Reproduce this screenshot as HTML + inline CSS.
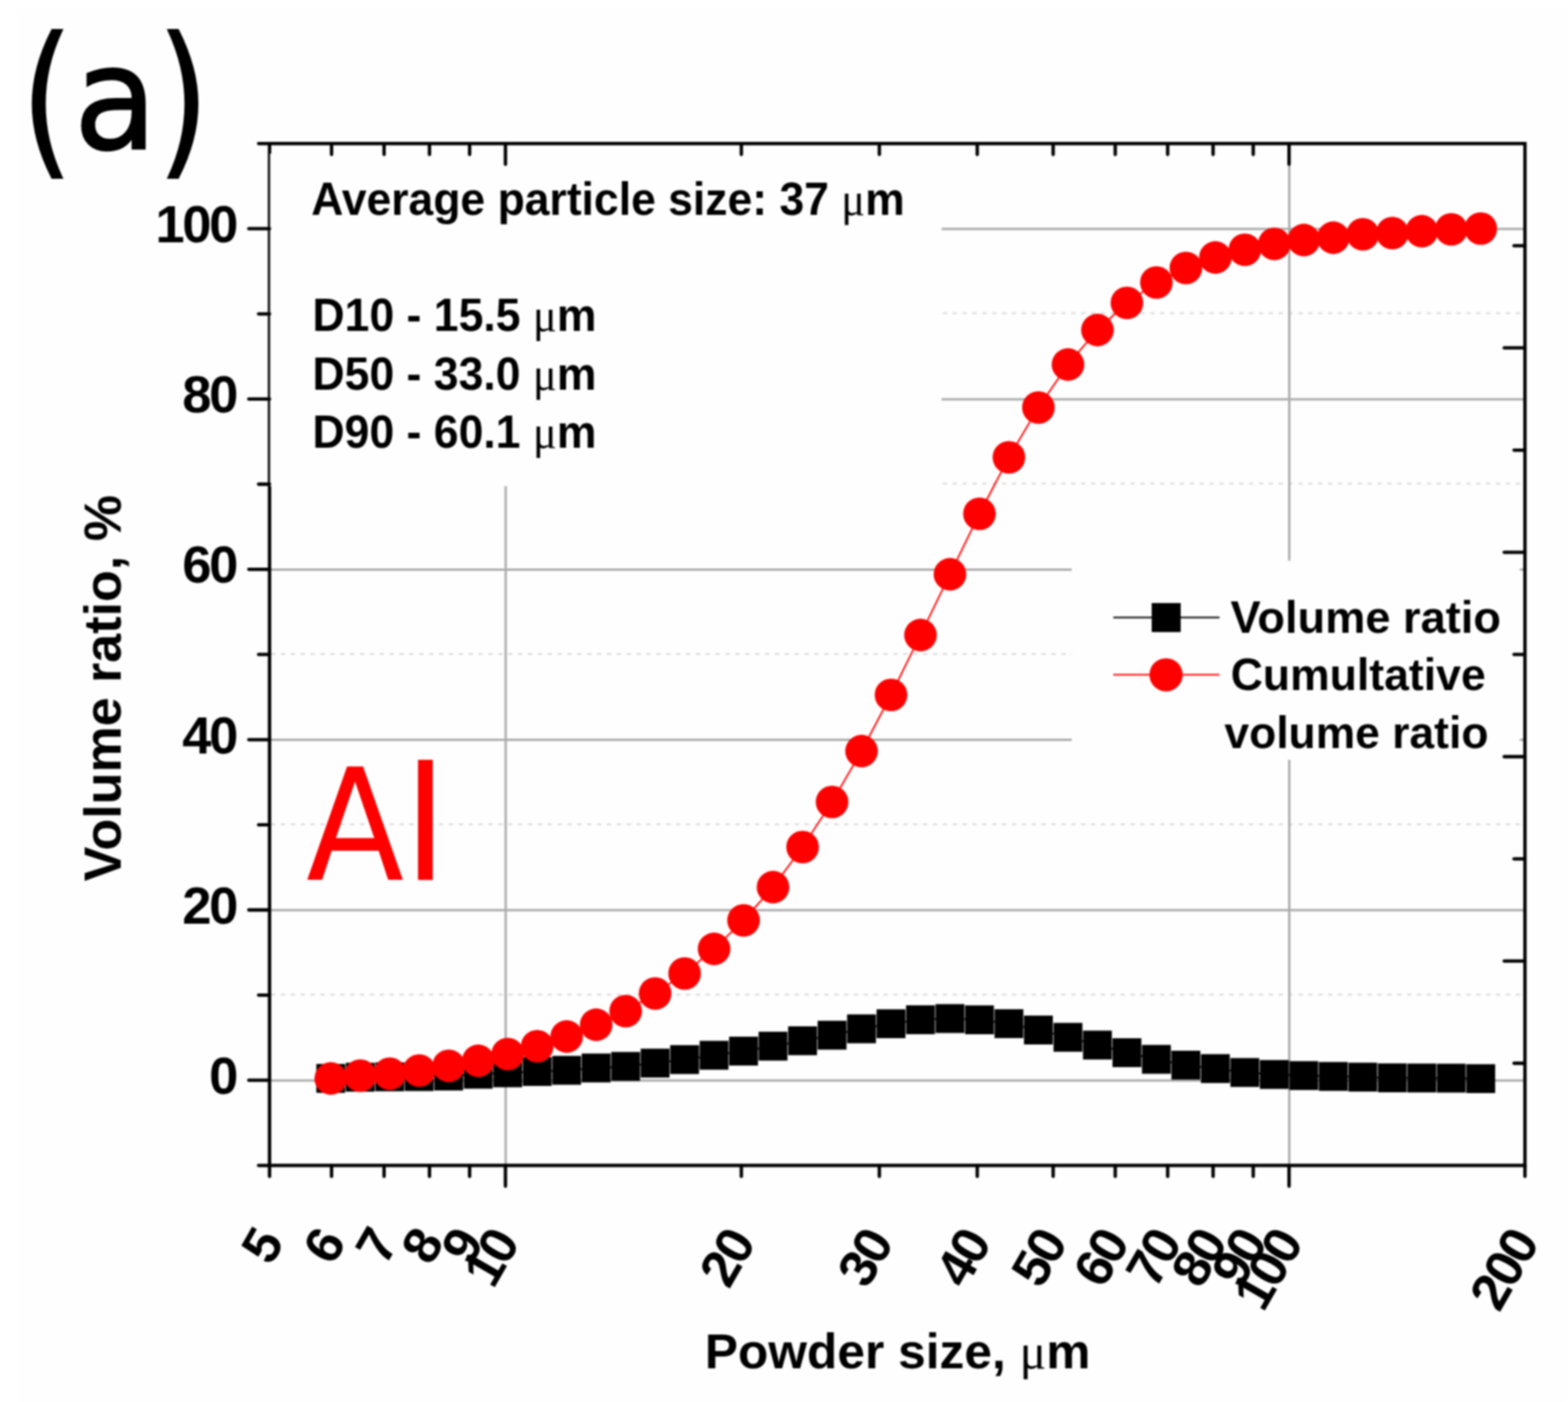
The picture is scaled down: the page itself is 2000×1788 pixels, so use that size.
<!DOCTYPE html><html><head><meta charset="utf-8"><title>Powder size distribution</title>
<style>html,body{margin:0;padding:0;background:#fff;}svg{display:block;filter:blur(0.9px)}.b{font-family:'Liberation Sans',Arial,sans-serif;font-weight:bold}.r{font-family:'Liberation Sans',Arial,sans-serif;font-weight:normal}.dj{font-family:'DejaVu Sans','Liberation Sans',sans-serif;font-weight:normal}.mu{font-family:'Liberation Serif','Times New Roman',serif;font-weight:normal}</style>
</head><body>
<svg width="2000" height="1788" viewBox="0 0 2000 1788">
<rect x="0" y="0" width="2000" height="1788" fill="#ffffff"/>
<rect x="22" y="12" width="1978" height="1776" fill="#fefefe"/>
<g><line x1="343.8" y1="1378.0" x2="1945.1" y2="1378.0" stroke="#acacac" stroke-width="3"/><line x1="343.8" y1="1160.8" x2="1945.1" y2="1160.8" stroke="#acacac" stroke-width="3"/><line x1="343.8" y1="943.6" x2="1945.1" y2="943.6" stroke="#acacac" stroke-width="3"/><line x1="343.8" y1="726.4" x2="1945.1" y2="726.4" stroke="#acacac" stroke-width="3"/><line x1="343.8" y1="509.2" x2="1945.1" y2="509.2" stroke="#acacac" stroke-width="3"/><line x1="343.8" y1="292.0" x2="1945.1" y2="292.0" stroke="#acacac" stroke-width="3"/><line x1="345.7" y1="1268.4" x2="1945.1" y2="1268.4" stroke="#d6d6d6" stroke-width="2" stroke-dasharray="5.5 7.1"/><line x1="345.7" y1="1051.2" x2="1945.1" y2="1051.2" stroke="#d6d6d6" stroke-width="2" stroke-dasharray="5.5 7.1"/><line x1="345.7" y1="834.0" x2="1945.1" y2="834.0" stroke="#d6d6d6" stroke-width="2" stroke-dasharray="5.5 7.1"/><line x1="345.7" y1="616.8" x2="1945.1" y2="616.8" stroke="#d6d6d6" stroke-width="2" stroke-dasharray="5.5 7.1"/><line x1="345.7" y1="399.6" x2="1945.1" y2="399.6" stroke="#d6d6d6" stroke-width="2" stroke-dasharray="5.5 7.1"/><line x1="645.0" y1="183.1" x2="645.0" y2="1486.3" stroke="#acacac" stroke-width="3"/><line x1="1644.5" y1="183.1" x2="1644.5" y2="1486.3" stroke="#acacac" stroke-width="3"/></g>
<rect x="1367" y="715" width="571.5" height="254" fill="#fefefe"/>
<polyline points="421.9,1375.3 459.5,1373.8 497.1,1373.3 534.7,1373.0 572.3,1372.3 610.0,1370.0 647.6,1368.2 685.2,1366.5 722.8,1365.0 760.4,1362.0 798.0,1360.0 835.6,1355.8 873.2,1351.3 910.8,1345.8 948.4,1340.5 986.0,1334.2 1023.7,1327.3 1061.3,1320.2 1098.9,1312.1 1136.5,1305.6 1174.1,1300.5 1211.7,1299.0 1249.3,1300.6 1286.9,1305.5 1324.5,1313.6 1362.2,1322.9 1399.8,1332.8 1437.4,1342.5 1475.0,1351.0 1512.6,1358.4 1550.2,1362.8 1587.8,1367.8 1625.4,1370.3 1663.0,1371.7 1700.6,1372.8 1738.2,1373.8 1775.9,1374.6 1813.5,1374.8 1851.1,1375.0 1888.7,1375.6" fill="none" stroke="#000" stroke-width="2"/>
<g fill="#000"><rect x="403.5" y="1356.9" width="36.8" height="36.8"/><rect x="441.1" y="1355.4" width="36.8" height="36.8"/><rect x="478.7" y="1354.9" width="36.8" height="36.8"/><rect x="516.3" y="1354.6" width="36.8" height="36.8"/><rect x="553.9" y="1353.9" width="36.8" height="36.8"/><rect x="591.6" y="1351.6" width="36.8" height="36.8"/><rect x="629.2" y="1349.8" width="36.8" height="36.8"/><rect x="666.8" y="1348.1" width="36.8" height="36.8"/><rect x="704.4" y="1346.6" width="36.8" height="36.8"/><rect x="742.0" y="1343.6" width="36.8" height="36.8"/><rect x="779.6" y="1341.6" width="36.8" height="36.8"/><rect x="817.2" y="1337.4" width="36.8" height="36.8"/><rect x="854.8" y="1332.9" width="36.8" height="36.8"/><rect x="892.4" y="1327.4" width="36.8" height="36.8"/><rect x="930.0" y="1322.1" width="36.8" height="36.8"/><rect x="967.6" y="1315.8" width="36.8" height="36.8"/><rect x="1005.3" y="1308.9" width="36.8" height="36.8"/><rect x="1042.9" y="1301.8" width="36.8" height="36.8"/><rect x="1080.5" y="1293.7" width="36.8" height="36.8"/><rect x="1118.1" y="1287.2" width="36.8" height="36.8"/><rect x="1155.7" y="1282.1" width="36.8" height="36.8"/><rect x="1193.3" y="1280.6" width="36.8" height="36.8"/><rect x="1230.9" y="1282.2" width="36.8" height="36.8"/><rect x="1268.5" y="1287.1" width="36.8" height="36.8"/><rect x="1306.1" y="1295.2" width="36.8" height="36.8"/><rect x="1343.8" y="1304.5" width="36.8" height="36.8"/><rect x="1381.4" y="1314.4" width="36.8" height="36.8"/><rect x="1419.0" y="1324.1" width="36.8" height="36.8"/><rect x="1456.6" y="1332.6" width="36.8" height="36.8"/><rect x="1494.2" y="1340.0" width="36.8" height="36.8"/><rect x="1531.8" y="1344.4" width="36.8" height="36.8"/><rect x="1569.4" y="1349.4" width="36.8" height="36.8"/><rect x="1607.0" y="1351.9" width="36.8" height="36.8"/><rect x="1644.6" y="1353.3" width="36.8" height="36.8"/><rect x="1682.2" y="1354.4" width="36.8" height="36.8"/><rect x="1719.8" y="1355.3" width="36.8" height="36.8"/><rect x="1757.5" y="1356.2" width="36.8" height="36.8"/><rect x="1795.1" y="1356.4" width="36.8" height="36.8"/><rect x="1832.7" y="1356.6" width="36.8" height="36.8"/><rect x="1870.3" y="1357.2" width="36.8" height="36.8"/></g>
<polyline points="421.9,1375.4 459.5,1371.8 497.1,1369.2 534.7,1365.3 572.3,1359.3 610.0,1352.9 647.6,1344.3 685.2,1334.2 722.8,1321.9 760.4,1306.9 798.0,1289.5 835.6,1267.0 873.2,1241.5 910.8,1210.1 948.4,1173.7 986.0,1131.4 1023.7,1080.2 1061.3,1022.7 1098.9,957.9 1136.5,886.2 1174.1,809.9 1211.7,732.4 1249.3,655.3 1286.9,583.2 1324.5,519.8 1362.2,464.9 1399.8,420.9 1437.4,386.3 1475.0,360.3 1512.6,341.7 1550.2,328.4 1587.8,318.5 1625.4,311.0 1663.0,306.1 1700.6,303.1 1738.2,298.8 1775.9,297.2 1813.5,294.9 1851.1,292.5 1888.7,291.5" fill="none" stroke="#ff0000" stroke-width="2"/>
<g fill="#ff0000"><circle cx="421.9" cy="1375.4" r="20.8"/><circle cx="459.5" cy="1371.8" r="20.8"/><circle cx="497.1" cy="1369.2" r="20.8"/><circle cx="534.7" cy="1365.3" r="20.8"/><circle cx="572.3" cy="1359.3" r="20.8"/><circle cx="610.0" cy="1352.9" r="20.8"/><circle cx="647.6" cy="1344.3" r="20.8"/><circle cx="685.2" cy="1334.2" r="20.8"/><circle cx="722.8" cy="1321.9" r="20.8"/><circle cx="760.4" cy="1306.9" r="20.8"/><circle cx="798.0" cy="1289.5" r="20.8"/><circle cx="835.6" cy="1267.0" r="20.8"/><circle cx="873.2" cy="1241.5" r="20.8"/><circle cx="910.8" cy="1210.1" r="20.8"/><circle cx="948.4" cy="1173.7" r="20.8"/><circle cx="986.0" cy="1131.4" r="20.8"/><circle cx="1023.7" cy="1080.2" r="20.8"/><circle cx="1061.3" cy="1022.7" r="20.8"/><circle cx="1098.9" cy="957.9" r="20.8"/><circle cx="1136.5" cy="886.2" r="20.8"/><circle cx="1174.1" cy="809.9" r="20.8"/><circle cx="1211.7" cy="732.4" r="20.8"/><circle cx="1249.3" cy="655.3" r="20.8"/><circle cx="1286.9" cy="583.2" r="20.8"/><circle cx="1324.5" cy="519.8" r="20.8"/><circle cx="1362.2" cy="464.9" r="20.8"/><circle cx="1399.8" cy="420.9" r="20.8"/><circle cx="1437.4" cy="386.3" r="20.8"/><circle cx="1475.0" cy="360.3" r="20.8"/><circle cx="1512.6" cy="341.7" r="20.8"/><circle cx="1550.2" cy="328.4" r="20.8"/><circle cx="1587.8" cy="318.5" r="20.8"/><circle cx="1625.4" cy="311.0" r="20.8"/><circle cx="1663.0" cy="306.1" r="20.8"/><circle cx="1700.6" cy="303.1" r="20.8"/><circle cx="1738.2" cy="298.8" r="20.8"/><circle cx="1775.9" cy="297.2" r="20.8"/><circle cx="1813.5" cy="294.9" r="20.8"/><circle cx="1851.1" cy="292.5" r="20.8"/><circle cx="1888.7" cy="291.5" r="20.8"/></g>
<rect x="343.8" y="183.1" width="1601.3" height="1303.2" fill="none" stroke="#000" stroke-width="4.3"/>
<rect x="344.5" y="196" width="856.5" height="424" fill="#fefefe"/>
<g stroke="#000" stroke-width="4.3" stroke-linecap="round"><line x1="329.8" y1="1486.3" x2="343.8" y2="1486.3"/><line x1="317.3" y1="1377.7" x2="343.8" y2="1377.7"/><line x1="329.8" y1="1269.1" x2="343.8" y2="1269.1"/><line x1="317.3" y1="1160.5" x2="343.8" y2="1160.5"/><line x1="329.8" y1="1051.9" x2="343.8" y2="1051.9"/><line x1="317.3" y1="943.3" x2="343.8" y2="943.3"/><line x1="329.8" y1="834.7" x2="343.8" y2="834.7"/><line x1="317.3" y1="726.1" x2="343.8" y2="726.1"/><line x1="329.8" y1="617.5" x2="343.8" y2="617.5"/><line x1="317.3" y1="508.9" x2="343.8" y2="508.9"/><line x1="329.8" y1="400.3" x2="343.8" y2="400.3"/><line x1="317.3" y1="291.7" x2="343.8" y2="291.7"/><line x1="329.8" y1="183.1" x2="343.8" y2="183.1"/><line x1="1931.1" y1="313.4" x2="1945.1" y2="313.4"/><line x1="1918.6" y1="443.7" x2="1945.1" y2="443.7"/><line x1="1931.1" y1="574.1" x2="1945.1" y2="574.1"/><line x1="1918.6" y1="704.4" x2="1945.1" y2="704.4"/><line x1="1931.1" y1="834.7" x2="1945.1" y2="834.7"/><line x1="1918.6" y1="965.0" x2="1945.1" y2="965.0"/><line x1="1931.1" y1="1095.3" x2="1945.1" y2="1095.3"/><line x1="1918.6" y1="1225.7" x2="1945.1" y2="1225.7"/><line x1="1931.1" y1="1356.0" x2="1945.1" y2="1356.0"/><line x1="343.8" y1="1486.3" x2="343.8" y2="1500.3"/><line x1="422.9" y1="1486.3" x2="422.9" y2="1500.3"/><line x1="422.9" y1="183.1" x2="422.9" y2="197.1"/><line x1="489.9" y1="1486.3" x2="489.9" y2="1500.3"/><line x1="489.9" y1="183.1" x2="489.9" y2="197.1"/><line x1="547.8" y1="1486.3" x2="547.8" y2="1500.3"/><line x1="547.8" y1="183.1" x2="547.8" y2="197.1"/><line x1="599.0" y1="1486.3" x2="599.0" y2="1500.3"/><line x1="599.0" y1="183.1" x2="599.0" y2="197.1"/><line x1="644.7" y1="1486.3" x2="644.7" y2="1512.8"/><line x1="644.7" y1="183.1" x2="644.7" y2="209.6"/><line x1="945.6" y1="1486.3" x2="945.6" y2="1500.3"/><line x1="945.6" y1="183.1" x2="945.6" y2="197.1"/><line x1="1121.6" y1="1486.3" x2="1121.6" y2="1500.3"/><line x1="1121.6" y1="183.1" x2="1121.6" y2="197.1"/><line x1="1246.5" y1="1486.3" x2="1246.5" y2="1500.3"/><line x1="1246.5" y1="183.1" x2="1246.5" y2="197.1"/><line x1="1343.3" y1="1486.3" x2="1343.3" y2="1500.3"/><line x1="1343.3" y1="183.1" x2="1343.3" y2="197.1"/><line x1="1422.5" y1="1486.3" x2="1422.5" y2="1500.3"/><line x1="1422.5" y1="183.1" x2="1422.5" y2="197.1"/><line x1="1489.4" y1="1486.3" x2="1489.4" y2="1500.3"/><line x1="1489.4" y1="183.1" x2="1489.4" y2="197.1"/><line x1="1547.3" y1="1486.3" x2="1547.3" y2="1500.3"/><line x1="1547.3" y1="183.1" x2="1547.3" y2="197.1"/><line x1="1598.5" y1="1486.3" x2="1598.5" y2="1500.3"/><line x1="1598.5" y1="183.1" x2="1598.5" y2="197.1"/><line x1="1644.2" y1="1486.3" x2="1644.2" y2="1512.8"/><line x1="1644.2" y1="183.1" x2="1644.2" y2="209.6"/><line x1="1945.1" y1="1486.3" x2="1945.1" y2="1500.3"/></g>
<g fill="#000"><text class="b" x="301.0" y="1394.9" font-size="67" letter-spacing="-3" text-anchor="end">0</text><text class="b" x="301.0" y="1177.7" font-size="67" letter-spacing="-3" text-anchor="end">20</text><text class="b" x="301.0" y="960.5" font-size="67" letter-spacing="-3" text-anchor="end">40</text><text class="b" x="301.0" y="743.3" font-size="67" letter-spacing="-3" text-anchor="end">60</text><text class="b" x="301.0" y="526.1" font-size="67" letter-spacing="-3" text-anchor="end">80</text><text class="b" x="301.0" y="308.9" font-size="67" letter-spacing="-3" text-anchor="end">100</text><text class="b" font-size="67" letter-spacing="-3" text-anchor="end" transform="translate(362.3 1586.0) rotate(-60)">5</text><text class="b" font-size="67" letter-spacing="-3" text-anchor="end" transform="translate(441.4 1586.0) rotate(-60)">6</text><text class="b" font-size="67" letter-spacing="-3" text-anchor="end" transform="translate(508.4 1586.0) rotate(-60)">7</text><text class="b" font-size="67" letter-spacing="-3" text-anchor="end" transform="translate(566.3 1586.0) rotate(-60)">8</text><text class="b" font-size="67" letter-spacing="-3" text-anchor="end" transform="translate(617.5 1586.0) rotate(-60)">9</text><text class="b" font-size="67" letter-spacing="-3" text-anchor="end" transform="translate(663.2 1586.0) rotate(-60)">10</text><text class="b" font-size="67" letter-spacing="-3" text-anchor="end" transform="translate(964.1 1586.0) rotate(-60)">20</text><text class="b" font-size="67" letter-spacing="-3" text-anchor="end" transform="translate(1140.1 1586.0) rotate(-60)">30</text><text class="b" font-size="67" letter-spacing="-3" text-anchor="end" transform="translate(1265.0 1586.0) rotate(-60)">40</text><text class="b" font-size="67" letter-spacing="-3" text-anchor="end" transform="translate(1361.8 1586.0) rotate(-60)">50</text><text class="b" font-size="67" letter-spacing="-3" text-anchor="end" transform="translate(1441.0 1586.0) rotate(-60)">60</text><text class="b" font-size="67" letter-spacing="-3" text-anchor="end" transform="translate(1507.9 1586.0) rotate(-60)">70</text><text class="b" font-size="67" letter-spacing="-3" text-anchor="end" transform="translate(1565.8 1586.0) rotate(-60)">80</text><text class="b" font-size="67" letter-spacing="-3" text-anchor="end" transform="translate(1617.0 1586.0) rotate(-60)">90</text><text class="b" font-size="67" letter-spacing="-3" text-anchor="end" transform="translate(1662.7 1586.0) rotate(-60)">100</text><text class="b" font-size="67" letter-spacing="-3" text-anchor="end" transform="translate(1963.6 1586.0) rotate(-60)">200</text><text class="b" font-size="63" x="898.98" y="1745.20" textLength="491.90" lengthAdjust="spacingAndGlyphs" >Powder size, <tspan class="mu">&#956;</tspan>m</text><text class="b" font-size="67" textLength="492.61" lengthAdjust="spacingAndGlyphs" transform="translate(154 1123.99) rotate(-90)">Volume ratio, %</text><text class="b" font-size="58.5" x="397.06" y="273.50" textLength="756.90" lengthAdjust="spacingAndGlyphs" >Average particle size: 37 <tspan class="mu">&#956;</tspan>m</text><text class="b" font-size="58.5" x="398.51" y="422.40" textLength="362.21" lengthAdjust="spacingAndGlyphs" >D10 - 15.5 <tspan class="mu">&#956;</tspan>m</text><text class="b" font-size="58.5" x="398.51" y="496.50" textLength="362.21" lengthAdjust="spacingAndGlyphs" >D50 - 33.0 <tspan class="mu">&#956;</tspan>m</text><text class="b" font-size="58.5" x="398.51" y="571.00" textLength="362.21" lengthAdjust="spacingAndGlyphs" >D90 - 60.1 <tspan class="mu">&#956;</tspan>m</text><line x1="1420" y1="787.6" x2="1555.5" y2="787.6" stroke="#000" stroke-width="2"/><rect x="1469.0" y="769.1" width="37.0" height="37.0" fill="#000"/><line x1="1420" y1="860.6" x2="1555.5" y2="860.6" stroke="#ff0000" stroke-width="2"/><circle cx="1487.3" cy="860.6" r="21.2" fill="#ff0000"/><text class="b" font-size="57" x="1569.49" y="806.90" textLength="345.04" lengthAdjust="spacingAndGlyphs" >Volume ratio</text><text class="b" font-size="57" x="1569.70" y="880.20" textLength="325.42" lengthAdjust="spacingAndGlyphs" >Cumultative</text><text class="b" font-size="57" x="1561.80" y="954.20" textLength="336.71" lengthAdjust="spacingAndGlyphs" >volume ratio</text><text class="dj"><tspan font-size="212" x="26.7" y="198.8" textLength="66.4" lengthAdjust="spacingAndGlyphs" stroke="#000" stroke-width="2">(</tspan><tspan font-size="182" x="94.3" y="188.7" textLength="106.1" lengthAdjust="spacingAndGlyphs" stroke="#000" stroke-width="2.5">a</tspan><tspan font-size="212" x="200.4" y="198.8" textLength="66.4" lengthAdjust="spacingAndGlyphs" stroke="#000" stroke-width="2">)</tspan></text><text class="dj" fill="#ff0000"><tspan font-size="197.5" x="390.6" y="1121.8" textLength="124.8" lengthAdjust="spacingAndGlyphs">A</tspan><tspan font-size="201" x="513.6" y="1121.8" textLength="58.1" lengthAdjust="spacingAndGlyphs">l</tspan></text></g>
</svg></body></html>
